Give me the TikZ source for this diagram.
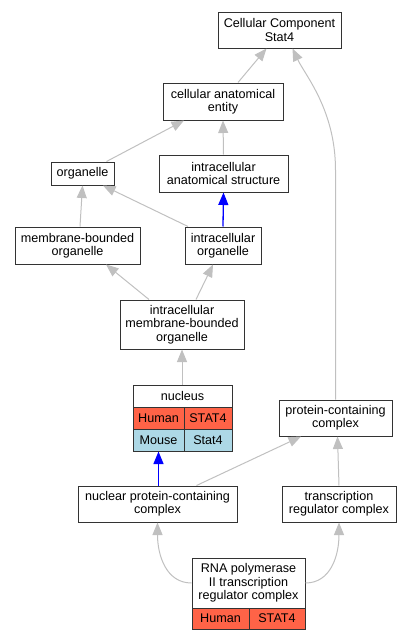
\documentclass[tikz,border=0pt]{standalone}
\usepackage{fontspec}
\setmainfont{Liberation Sans}
\usetikzlibrary{arrows.meta}
\definecolor{edgegray}{HTML}{C0C0C0}
\definecolor{boxline}{HTML}{333333}
\definecolor{human}{HTML}{FF6347}
\definecolor{mouse}{HTML}{ADD8E6}
\begin{document}
\begin{tikzpicture}[x=1pt,y=-1pt,
  box/.style={draw=boxline, line width=1pt, fill=white, inner sep=0pt, align=center, font=\fontsize{12.6}{13.3}\selectfont},
  hcell/.style={box, fill=human},
  mcell/.style={box, fill=mouse},
  edge/.style={draw=edgegray, line width=1pt, -{Triangle[length=12.5pt,width=10pt]}},
  isa/.style={draw=blue, line width=1.3pt, -{Triangle[length=12.5pt,width=10pt]}}]
\path[use as bounding box] (0,0) rectangle (411,640);
% nodes
\node[box, minimum width=123pt, minimum height=36pt] (cc) at (279.5,30) {Cellular Component\\Stat4};
\node[box, minimum width=120pt, minimum height=37pt] (cae) at (223,101.5) {cellular anatomical\\entity};
\node[box, minimum width=63pt, minimum height=23pt] (org) at (82.5,173.5) {organelle};
\node[box, minimum width=129pt, minimum height=37pt] (ias) at (223.5,173.5) {intracellular\\anatomical structure};
\node[box, minimum width=125pt, minimum height=37pt] (mbo) at (77.5,245.5) {membrane-bounded\\organelle};
\node[box, minimum width=76pt, minimum height=37pt] (io) at (223,245.5) {intracellular\\organelle};
\node[box, minimum width=124pt, minimum height=49pt] (imbo) at (182,324.5) {intracellular\\membrane-bounded\\organelle};
\node[box, minimum width=99pt, minimum height=22pt] (nuc) at (182.5,396) {nucleus};
\node[hcell, minimum width=51pt, minimum height=22pt] (nuch) at (158.5,418) {Human};
\node[hcell, minimum width=48pt, minimum height=22pt] (nuchg) at (208,418) {STAT4};
\node[mcell, minimum width=51pt, minimum height=22pt] (nucm) at (158.5,440) {Mouse};
\node[mcell, minimum width=48pt, minimum height=22pt] (nucmg) at (208,440) {Stat4};
\node[box, minimum width=113pt, minimum height=36pt] (pcc) at (335.5,418) {protein-containing\\complex};
\node[box, minimum width=159pt, minimum height=36pt] (npcc) at (157.5,504) {nuclear protein-containing\\complex};
\node[box, minimum width=114pt, minimum height=36pt] (trc) at (339,504) {transcription\\regulator complex};
\node[box, minimum width=113pt, minimum height=50pt] (rna) at (248.5,583) {RNA polymerase\\II transcription\\regulator complex};
\node[hcell, minimum width=57pt, minimum height=21pt] (rnah) at (220.5,618.5) {Human};
\node[hcell, minimum width=56pt, minimum height=21pt] (rnahg) at (277,618.5) {STAT4};
% edges
\draw[edge] ([xshift=15pt]cae.north) -- ([xshift=-13pt]cc.south);
\draw[edge] (pcc.north) -- (335.5,170) .. controls (335.5,110) and (305,75) .. ([xshift=13pt]cc.south);
\draw[edge] ([xshift=24pt]org.north) -- ([xshift=-39pt]cae.south);
\draw[edge] (ias.north) -- (cae.south);
\draw[edge] ([xshift=-35pt]io.north) -- ([xshift=20.5pt]org.south);
\draw[edge] ([xshift=2.5pt]mbo.north) -- (org.south);
\draw[isa] (io.north) -- (ias.south);
\draw[edge] ([xshift=-33pt]imbo.north) -- ([xshift=28.5pt]mbo.south);
\draw[edge] ([xshift=14pt]imbo.north) -- ([xshift=-10pt]io.south);
\draw[edge] (nuc.north -| imbo.south) -- (imbo.south);
\draw[isa] (npcc.north -| nucm.south) -- (nucm.south);
\draw[edge] ([xshift=39pt]npcc.north) -- ([xshift=-34.5pt]pcc.south);
\draw[edge] (trc.north) -- ([xshift=2pt]pcc.south);
\draw[edge] (rna.west) .. controls (166,583) and (157.5,555) .. (npcc.south);
\draw[edge] (rna.east) .. controls (331,583) and (339,555) .. (trc.south);
\end{tikzpicture}
\end{document}
